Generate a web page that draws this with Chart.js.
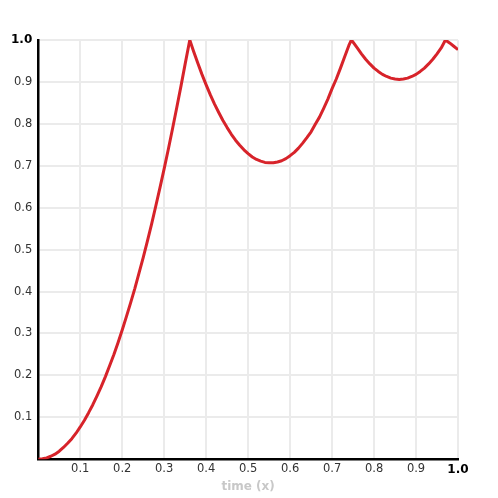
<!DOCTYPE html>
<html>
<head>
<meta charset="utf-8">
<script src="https://cdn.jsdelivr.net/npm/chart.js@4/dist/chart.umd.min.js"></script>
<style>
html,body{margin:0;padding:0;background:#fff;}
#wrap{width:498px;height:498px;}
</style>
</head>
<body>
<div id="wrap"><canvas id="c" width="498" height="498"></canvas></div>
<script>
const xValues = [0, 0.01, 0.02, 0.03, 0.04, 0.05, 0.06, 0.07, 0.08, 0.09, 0.10, 0.11, 0.12, 0.13, 0.14, 0.15, 0.16, 0.17, 0.18, 0.19,
  0.20, 0.21, 0.22, 0.23, 0.24, 0.25, 0.26, 0.27, 0.28, 0.29, 0.30, 0.31, 0.32, 0.33, 0.34, 0.35, 0.361,
  0.37, 0.38, 0.39, 0.40, 0.41, 0.42, 0.43, 0.44, 0.45, 0.46, 0.47, 0.48, 0.49, 0.50, 0.51, 0.52, 0.53, 0.54, 0.55,
  0.56, 0.57, 0.58, 0.59, 0.60, 0.61, 0.62, 0.63, 0.64, 0.65, 0.66, 0.67, 0.68, 0.69, 0.70, 0.71, 0.72, 0.73, 0.74, 0.746,
  0.75, 0.76, 0.77, 0.78, 0.79, 0.80, 0.81, 0.82, 0.83, 0.84, 0.85, 0.86, 0.87, 0.88, 0.89, 0.90, 0.91, 0.92, 0.93, 0.94,
  0.95, 0.96, 0.970, 0.98, 0.99, 1.0];
const yValues = [0, 0.001, 0.003, 0.007, 0.012, 0.019, 0.028, 0.038, 0.049, 0.062, 0.077, 0.093, 0.111, 0.130, 0.151, 0.173, 0.197, 0.223, 0.249, 0.278,
  0.308, 0.340, 0.373, 0.407, 0.444, 0.481, 0.520, 0.561, 0.604, 0.648, 0.693, 0.740, 0.789, 0.839, 0.890, 0.943, 1.0,
  0.973, 0.945, 0.918, 0.893, 0.869, 0.847, 0.827, 0.808, 0.791, 0.775, 0.761, 0.749, 0.738, 0.729, 0.721, 0.715, 0.711, 0.708, 0.707,
  0.707, 0.709, 0.712, 0.717, 0.724, 0.732, 0.742, 0.754, 0.767, 0.781, 0.799, 0.816, 0.837, 0.859, 0.884, 0.907, 0.933, 0.960, 0.987, 1.0,
  0.995, 0.981, 0.967, 0.954, 0.943, 0.933, 0.925, 0.918, 0.913, 0.909, 0.907, 0.906, 0.907, 0.909, 0.913, 0.918, 0.925, 0.933, 0.943, 0.954,
  0.967, 0.981, 1.0, 0.993, 0.985, 0.977];
const xTitle = "time (x)";
const tickValues = [0.1, 0.2, 0.3, 0.4, 0.5, 0.6, 0.7, 0.8, 0.9, 1.0];

const points = xValues.map((x, i) => ({x: x, y: yValues[i]}));
const FONT = "'DejaVu Sans', Verdana, sans-serif";

function tickFont(ctx) {
  const v = ctx.tick ? ctx.tick.value : 0;
  return Math.abs(v - 1) < 1e-9 ? {family: FONT, size: 12, weight: 'bold'} : {family: FONT, size: 11.5, weight: 'normal'};
}
function tickColor(ctx) {
  const v = ctx.tick ? ctx.tick.value : 0;
  return Math.abs(v - 1) < 1e-9 ? '#000' : '#333';
}
function tickLabel(v) {
  const r = Math.round(v * 10) / 10;
  return tickValues.some(t => Math.abs(t - r) < 1e-9) ? r.toFixed(1) : '';
}

new Chart(document.getElementById('c'), {
  type: 'scatter',
  data: {
    datasets: [{
      data: points,
      showLine: true,
      borderColor: '#d7232a',
      borderWidth: 3,
      pointRadius: 0,
      tension: 0,
      borderJoinStyle: 'round',
      fill: false
    }]
  },
  options: {
    responsive: false,
    animation: false,
    layout: {padding: {top: 40, right: 40, left: 5, bottom: 0}},
    plugins: {legend: {display: false}, tooltip: {enabled: false}},
    scales: {
      x: {
        type: 'linear', min: 0, max: 1,
        ticks: {stepSize: 0.1, callback: tickLabel, font: tickFont, color: tickColor, padding: 3, maxRotation: 0},
        grid: {color: '#ebebeb', lineWidth: 2, drawTicks: false},
        border: {display: true, color: '#000', width: 2.5},
        title: {display: true, text: xTitle, color: '#c8c8c8', font: {family: FONT, size: 12, weight: 'bold'}, padding: {top: 0, bottom: 4}}
      },
      y: {
        type: 'linear', min: 0, max: 1,
        ticks: {stepSize: 0.1, callback: tickLabel, font: tickFont, color: tickColor, padding: 6},
        grid: {color: '#ebebeb', lineWidth: 2, drawTicks: false},
        border: {display: true, color: '#000', width: 2.5}
      }
    }
  }
});
</script>
</body>
</html>
